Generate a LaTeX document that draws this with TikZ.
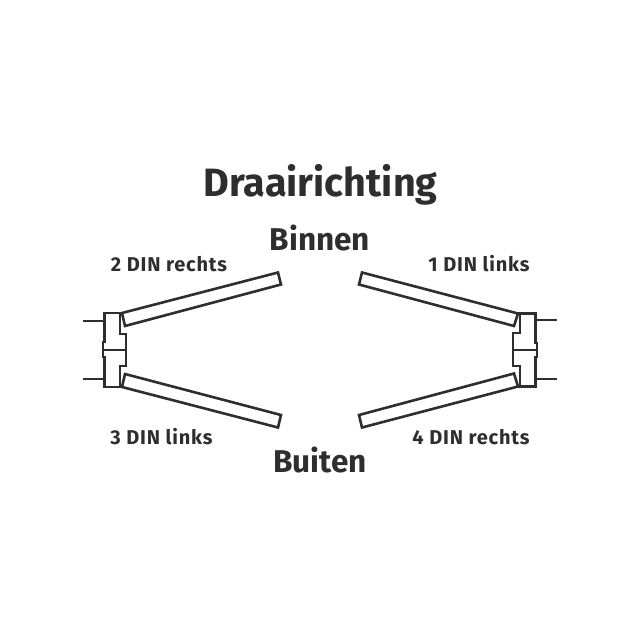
\documentclass[tikz,border=0pt]{standalone}
\usepackage{xcolor}
\usepackage{fontspec}
\setmainfont{Fira Sans}
\usepackage{tikz}
\definecolor{inkgrey}{HTML}{2E2E2E}
\tikzset{
	profile/.style={draw=inkgrey, line width=2.6pt, line join=miter},
	title/.style={text=inkgrey, font=\fontsize{39.5}{38}\selectfont\bfseries, inner sep=0pt, anchor=base},
	side/.style={text=inkgrey, font=\fontsize{31.5}{28}\selectfont\bfseries, inner sep=0pt, anchor=base},
	din/.style={text=inkgrey, font=\fontsize{20}{18}\selectfont\bfseries\addfontfeature{LetterSpace=4}, inner sep=0pt, anchor=base}
}

\begin{document}
\begin{tikzpicture}[x=1pt,y=-1pt]
		\useasboundingbox (0,0) rectangle (640,640);
		% left frame
		\draw[profile] (122,313) -- (104.5,313) -- (104.5,342) -- (103,342) -- (103,357) -- (104.5,357) -- (104.5,387) -- (122,387);
		\draw[profile] (120,313) -- (120,334) -- (126,334) -- (126,366) -- (120,366) -- (120,387);
		\draw[profile] (103,350) -- (126,350);
		\draw[profile] (83,321) -- (104.5,321);
		\draw[profile] (83,379) -- (104.5,379);
		% left doors
		\draw[profile] (122,313) -- (278,272.5) -- (281,284.5) -- (125,326) -- cycle;
		\draw[profile] (122,387) -- (278,427.5) -- (281,415) -- (125,374) -- cycle;
		% right frame
		\draw[profile] (518,313.5) -- (535.5,313.5) -- (535.5,343) -- (537,343) -- (537,357) -- (535.5,357) -- (535.5,386.5) -- (518,386.5);
		\draw[profile] (520,313.5) -- (520,333) -- (513,333) -- (513,366) -- (520,366) -- (520,386.5);
		\draw[profile] (513,350) -- (537,350);
		\draw[profile] (535.5,320) -- (557,320);
		\draw[profile] (535.5,379) -- (557,379);
		% right doors
		\draw[profile] (518,313.5) -- (362,272.5) -- (359,284.5) -- (514,326) -- cycle;
		\draw[profile] (518,386.5) -- (362,427.5) -- (359,415) -- (514,373.5) -- cycle;
		% labels
		\node[title] (draairichting) at (320.5,196) {Draairichting};
		\node[side] (binnen) at (320,250) {Binnen};
		\node[side] (buiten) at (320,472) {Buiten};
		\node[din] (din2) at (169,271) {2 DIN rechts};
		\node[din] (din1) at (479,271) {1 DIN links};
		\node[din] (din3) at (161.5,444) {3 DIN links};
		\node[din] (din4) at (471,444) {4 DIN rechts};
	\end{tikzpicture}
\end{document}
